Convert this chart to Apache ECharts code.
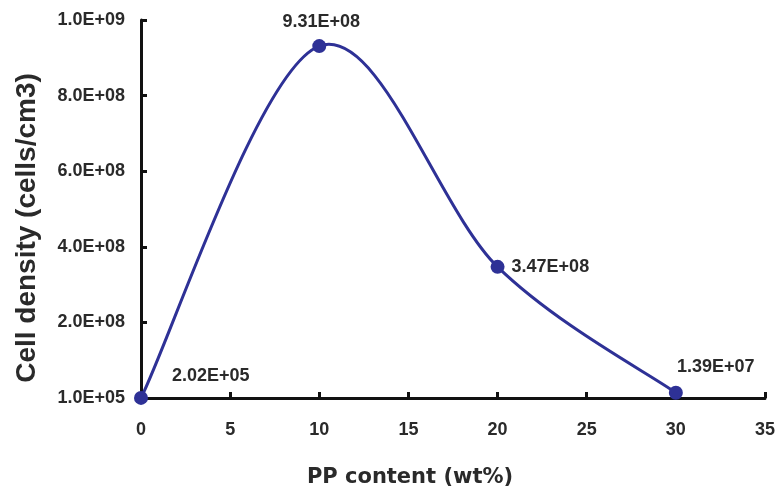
<!DOCTYPE html>
<html><head><meta charset="utf-8">
<script src="https://cdn.jsdelivr.net/npm/echarts@6/dist/echarts.min.js"></script>
<style>html,body{margin:0;padding:0;background:#fff}#c{width:778px;height:493px}</style>
</head><body><div id="c"></div>
<script>
var ppContent = [0, 10, 20, 30];
var cellDensity = [2.02e5, 9.31e8, 3.47e8, 1.39e7];
var yTickZeroLabel = '1.0E+05';

function sci(v, d) {
  var s = v.toExponential(d);
  var parts = s.split('e');
  var exp = parseInt(parts[1], 10);
  var sign = exp < 0 ? '-' : '+';
  var e = Math.abs(exp);
  return parts[0] + 'E' + sign + (e < 10 ? '0' + e : '' + e);
}

var labelCfg = [
  {position: 'right', offset: [19, -22]},
  {position: 'top', offset: [2, -3]},
  {position: 'right', offset: [2, 0]},
  {position: 'top', offset: [40, -5]}
];

var points = ppContent.map(function (x, i) { return [x, cellDensity[i]]; });
var data = points.map(function (p, i) {
  return {value: p, label: labelCfg[i]};
});

var chart = echarts.init(document.getElementById('c'));
var blue = '#2E3196';
var txt = '#2a2a2a';

// Smoothed curve (Catmull-Rom style, tension 1/6) through the data points, in axis coordinates
function renderCurve(params, api) {
  if (params.dataIndex !== 0) return null;
  var pts = points.map(function (p) { return api.coord(p); });
  var n = pts.length;
  var d = 'M' + pts[0][0] + ' ' + pts[0][1];
  for (var i = 0; i < n - 1; i++) {
    var p0 = pts[Math.max(i - 1, 0)], p1 = pts[i], p2 = pts[i + 1], p3 = pts[Math.min(i + 2, n - 1)];
    var c1x = p1[0] + (p2[0] - p0[0]) / 6, c1y = p1[1] + (p2[1] - p0[1]) / 6;
    var c2x = p2[0] - (p3[0] - p1[0]) / 6, c2y = p2[1] - (p3[1] - p1[1]) / 6;
    d += ' C' + c1x + ' ' + c1y + ' ' + c2x + ' ' + c2y + ' ' + p2[0] + ' ' + p2[1];
  }
  return {type: 'path', shape: {pathData: d}, style: {fill: 'none', stroke: blue, lineWidth: 3}};
}

chart.setOption({
  animation: false,
  grid: {left: 141, right: 11, top: 20, bottom: 93, containLabel: false},
  xAxis: {
    type: 'value', min: 0, max: 35, interval: 5,
    name: 'PP content (wt%)', nameLocation: 'middle', nameGap: 69,
    nameTextStyle: {fontFamily: 'DejaVu Sans', fontWeight: 'bold', fontSize: 21, color: txt, padding: [0, 86, 0, 0]},
    axisLine: {show: true, lineStyle: {color: '#111', width: 3}},
    axisTick: {show: true, inside: true, length: 6, lineStyle: {color: '#111', width: 3}},
    axisLabel: {fontFamily: 'Liberation Sans', fontWeight: 'bold', fontSize: 18, color: txt, margin: 23},
    splitLine: {show: false}
  },
  yAxis: {
    type: 'value', min: 0, max: 1e9, interval: 2e8,
    name: 'Cell density (cells/cm3)', nameLocation: 'middle', nameGap: 100, nameRotate: 90,
    nameTextStyle: {fontFamily: 'Liberation Sans', fontWeight: 'bold', fontSize: 28, color: txt, padding: [0, 38, 0, 0]},
    axisLine: {show: true, lineStyle: {color: '#111', width: 3}},
    axisTick: {show: true, inside: true, length: 6, lineStyle: {color: '#111', width: 3}},
    axisLabel: {fontFamily: 'Liberation Sans', fontWeight: 'bold', fontSize: 18, color: txt, margin: 16,
      formatter: function (v) { return v === 0 ? yTickZeroLabel : sci(v, 1); }},
    splitLine: {show: false}
  },
  series: [{
    type: 'custom',
    data: points,
    encode: {x: 0, y: 1},
    renderItem: renderCurve,
    z: 2,
    silent: true
  }, {
    type: 'scatter',
    data: data,
    symbol: 'circle', symbolSize: 14,
    itemStyle: {color: blue, opacity: 1},
    z: 3,
    label: {show: true, fontFamily: 'Liberation Sans', fontWeight: 'bold', fontSize: 18, color: txt,
      formatter: function (p) { return sci(p.value[1], 2); }}
  }]
});
</script></body></html>
